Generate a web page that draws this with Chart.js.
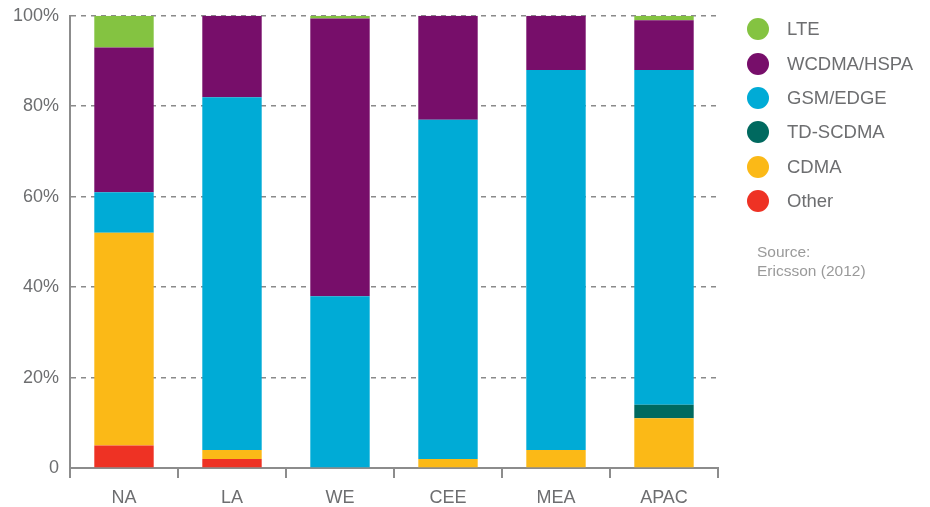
<!DOCTYPE html>
<html>
<head>
<meta charset="utf-8">
<script src="https://cdn.jsdelivr.net/npm/chart.js@4/dist/chart.umd.min.js"></script>
<style>
    body { margin: 0; background: #fff; font-family: "Liberation Sans", Arial, sans-serif; }
    #wrap { position: relative; width: 930px; height: 507px; overflow: hidden; }
    #chart { position: absolute; left: 0; top: -6px; }
    #legend { position: absolute; left: 747px; top: 12px; }
    .row { height: 34.4px; display: flex; align-items: center; color: #6d6e70; font-size: 18.5px; }
    .dot { width: 22px; height: 22px; border-radius: 50%; margin-right: 18px; }
    #source { position: absolute; left: 757px; top: 242px; color: #9a9a9a; font-size: 15.5px; line-height: 19px; }
</style>
</head>
<body>
<div id="wrap">
    <canvas id="chart" width="930" height="513"></canvas>
    <div id="legend"></div>
    <div id="source">Source:<br>Ericsson (2012)</div>
</div>
<script>
// ====== DATA ======
const regions = ["NA", "LA", "WE", "CEE", "MEA", "APAC"];
const yTicks = [0, 20, 40, 60, 80, 100];

// stack order bottom -> top
const other    = [5, 2, 0, 0, 0, 0];
const cdma     = [47, 2, 0, 2, 4, 11];
const tdscdma  = [0, 0, 0, 0, 0, 3];
const gsmEdge  = [9, 78, 38, 75, 84, 74];
const wcdma    = [32, 18, 61.4, 23, 12, 11];
const lte      = [7, 0, 0.6, 0, 0, 1];

const seriesNames  = ["Other", "CDMA", "TD-SCDMA", "GSM/EDGE", "WCDMA/HSPA", "LTE"];
const seriesValues = [other, cdma, tdscdma, gsmEdge, wcdma, lte];
const seriesColors = ["#ee3224", "#fbb917", "#00695f", "#00abd6", "#770e6a", "#84c341"];

const txtColor = "#6d6e70";
const axisColor = "#8c8c8c";

// ====== LEGEND (top -> bottom = LTE ... Other) ======
const legendEl = document.getElementById("legend");
for (let i = seriesNames.length - 1; i >= 0; i--) {
    const row = document.createElement("div");
    row.className = "row";
    row.innerHTML = `<span class="dot" style="background:${seriesColors[i]}"></span>${seriesNames[i]}`;
    legendEl.appendChild(row);
}

// ====== CHART ======
const ctx = document.getElementById("chart").getContext("2d");
new Chart(ctx, {
    type: "bar",
    data: {
        labels: regions,
        datasets: seriesNames.map((name, i) => ({
            label: name,
            data: seriesValues[i],
            backgroundColor: seriesColors[i],
            borderWidth: 0,
            barPercentage: 0.55,
            categoryPercentage: 1
        }))
    },
    options: {
        responsive: false,
        animation: false,
        layout: { padding: { top: 9, right: 212, left: 0, bottom: 0 } },
        plugins: { legend: { display: false }, tooltip: { enabled: false } },
        scales: {
            x: {
                stacked: true,
                afterFit: s => { s.height = 39; },
                grid: {
                    offset: true,
                    drawOnChartArea: false,
                    drawTicks: true,
                    tickLength: 10,
                    color: axisColor,
                    lineWidth: 2
                },
                border: { color: axisColor, width: 2 },
                ticks: {
                    color: txtColor,
                    font: { family: "Liberation Sans", size: 18 },
                    padding: 9
                }
            },
            y: {
                stacked: true,
                min: 0,
                max: 100,
                afterFit: s => { s.width = 70; },
                afterBuildTicks: s => { s.ticks = yTicks.map(v => ({ value: v })); },
                grid: {
                    drawTicks: false,
                    color: c => c.tick.value === 0 ? "rgba(0,0,0,0)" : "#8a8a8a",
                    lineWidth: 1.5
                },
                border: { color: axisColor, width: 2, dash: [5, 5] },
                ticks: {
                    color: txtColor,
                    font: { family: "Liberation Sans", size: 18 },
                    padding: 11,
                    callback: v => v === 0 ? "0" : v + "%"
                }
            }
        }
    },
    plugins: [{
        // solid left axis line (border dash applies to grid lines)
        id: "solidAxis",
        afterDraw(chart) {
            const c = chart.ctx;
            const a = chart.chartArea;
            c.save();
            c.strokeStyle = axisColor;
            c.lineWidth = 2;
            c.beginPath();
            c.moveTo(a.left, a.top);
            c.lineTo(a.left, a.bottom);
            c.stroke();
            c.restore();
        }
    }]
});
</script>
</body>
</html>
